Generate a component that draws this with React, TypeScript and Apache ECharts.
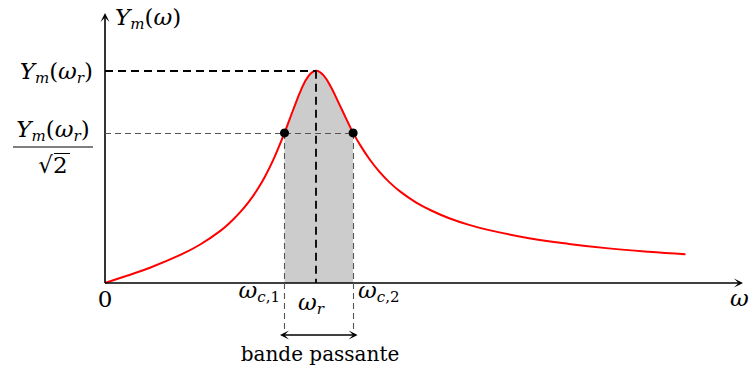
import React, { useEffect, useRef } from 'react';
import * as echarts from 'echarts';

// Resonance curve: angular frequency (ω / ω_r) and Y_m (/ Y_m(ω_r))
const omega = [0, 0.1, 0.213, 0.354, 0.449, 0.543, 0.6, 0.638, 0.68, 0.717, 0.756, 0.8, 0.85, 0.889, 0.93, 0.965, 1.0, 1.035, 1.07, 1.11, 1.142, 1.175, 1.21, 1.252, 1.3, 1.346, 1.4, 1.472, 1.55, 1.63, 1.72, 1.819, 2.008, 2.197, 2.385, 2.574, 2.749];
const ymValues = [0, 0.033, 0.072, 0.131, 0.18, 0.243, 0.292, 0.331, 0.381, 0.433, 0.498, 0.587, 0.707, 0.81, 0.913, 0.977, 1.0, 0.978, 0.923, 0.841, 0.774, 0.707, 0.647, 0.584, 0.523, 0.475, 0.429, 0.38, 0.339, 0.305, 0.275, 0.249, 0.211, 0.184, 0.163, 0.147, 0.135];

const omegaR = 1.0;
const omegaC1 = 0.85;
const omegaC2 = 1.175;
const peakValue = 1.0;
const halfPowerValue = 0.707;

const xMax = 3;
const yMin = -0.4;
const yMax = 1.25;
const bandArrowLevel = -0.245;
const cutoffGuideBottom = -0.25;

const bandText = 'bande passante';

const FONT = 'DejaVu Serif';
const rich: any = {
  i: { fontFamily: FONT, fontStyle: 'italic', fontSize: 23, lineHeight: 29, fill: '#000' },
  n: { fontFamily: FONT, fontSize: 23, lineHeight: 29, fill: '#000' },
  s: { fontFamily: FONT, fontStyle: 'italic', fontSize: 15, lineHeight: 15, verticalAlign: 'bottom', fill: '#000' },
  sn: { fontFamily: FONT, fontSize: 15, lineHeight: 15, verticalAlign: 'bottom', fill: '#000' },
};

const ARROW = 'path://M0,10 L5,0 L10,10 L5,5 Z';

function mathText(text: string, x: number, y: number, align: string, vAlign = 'middle') {
  return {
    type: 'text',
    x,
    y,
    silent: true,
    style: {
      text,
      rich,
      font: `23px "${FONT}"`,
      fill: '#000',
      align,
      verticalAlign: vAlign,
      textAlign: align,
      textVerticalAlign: vAlign,
    },
  };
}

export default function App() {
  const ref = useRef<HTMLDivElement>(null);
  useEffect(() => {
    if (!ref.current) return;
    const chart = echarts.init(ref.current, null, { renderer: 'svg' });
    const curve = omega.map((w, k) => [w, ymValues[k]]);
    const band = curve.filter((p) => p[0] >= omegaC1 - 1e-9 && p[0] <= omegaC2 + 1e-9);

    const black = '#000';
    const grey = '#555';
    const axisStyle = { color: black, width: 1.6, type: 'solid' };
    const peakDash = { color: black, width: 1.8, type: [8, 5] };
    const greyDash = { color: grey, width: 1.1, type: [6, 4] };
    const arrowSize = [9, 9];

    const markData: any[] = [
      // axes
      [
        { coord: [0, 0], symbol: 'none', lineStyle: axisStyle },
        { coord: [xMax, 0], symbol: ARROW, symbolSize: arrowSize },
      ],
      [
        { coord: [0, 0], symbol: 'none', lineStyle: axisStyle },
        { coord: [0, yMax], symbol: ARROW, symbolSize: arrowSize },
      ],
      // peak guides
      [
        { coord: [0, peakValue], symbol: 'none', lineStyle: peakDash },
        { coord: [omegaR, peakValue], symbol: 'none' },
      ],
      [
        { coord: [omegaR, peakValue], symbol: 'none', lineStyle: peakDash },
        { coord: [omegaR, 0], symbol: 'none' },
      ],
      // half-power guides
      [
        { coord: [0, halfPowerValue], symbol: 'none', lineStyle: greyDash },
        { coord: [omegaC2, halfPowerValue], symbol: 'none' },
      ],
      [
        { coord: [omegaC1, halfPowerValue], symbol: 'none', lineStyle: greyDash },
        { coord: [omegaC1, cutoffGuideBottom], symbol: 'none' },
      ],
      [
        { coord: [omegaC2, halfPowerValue], symbol: 'none', lineStyle: greyDash },
        { coord: [omegaC2, cutoffGuideBottom], symbol: 'none' },
      ],
      // band arrow
      [
        { coord: [omegaC1, bandArrowLevel], symbol: ARROW, symbolSize: arrowSize, lineStyle: { color: black, width: 1.6, type: 'solid' } },
        { coord: [omegaC2, bandArrowLevel], symbol: ARROW, symbolSize: arrowSize },
      ],
    ];

    chart.setOption({
      animation: false,
      grid: { left: 105, top: 17.6, width: 633.5, height: 350.3, containLabel: false },
      xAxis: { type: 'value', min: 0, max: xMax, show: false },
      yAxis: { type: 'value', min: yMin, max: yMax, show: false },
      series: [
        {
          type: 'line',
          data: band,
          smooth: 0.4,
          showSymbol: false,
          silent: true,
          lineStyle: { width: 0, opacity: 0 },
          areaStyle: { color: '#cccccc', opacity: 1 },
          z: 1,
        },
        {
          type: 'line',
          data: curve,
          smooth: 0.4,
          showSymbol: false,
          silent: true,
          lineStyle: { color: '#ff0000', width: 2 },
          z: 3,
          markLine: {
            silent: true,
            animation: false,
            label: { show: false },
            emphasis: { disabled: true },
            data: markData,
          },
        },
        {
          type: 'scatter',
          data: [
            [omegaC1, halfPowerValue],
            [omegaC2, halfPowerValue],
          ],
          symbolSize: 9,
          itemStyle: { color: black, opacity: 1 },
          silent: true,
          z: 5,
        },
      ],
      graphic: [
        mathText('{i|Y}{s|m}{n|(}{i|ω}{n|)}', 115, 17, 'left'),
        mathText('{i|Y}{s|m}{n|(}{i|ω}{s|r}{n|)}', 93, 71, 'right'),
        mathText('{i|Y}{s|m}{n|(}{i|ω}{s|r}{n|)}', 53, 129, 'center'),
        { type: 'line', silent: true, shape: { x1: 13, y1: 147, x2: 93, y2: 147 }, style: { stroke: black, lineWidth: 1 } },
        mathText('{n|√2}', 53, 165, 'center'),
        { type: 'line', silent: true, shape: { x1: 54, y1: 153.5, x2: 70, y2: 153.5 }, style: { stroke: black, lineWidth: 1 } },
        mathText('{n|0}', 105, 299, 'center'),
        mathText('{i|ω}{s|c}{sn|,1}', 280, 290, 'right'),
        mathText('{i|ω}{s|r}', 311, 302, 'center'),
        mathText('{i|ω}{s|c}{sn|,2}', 358, 290, 'left'),
        mathText('{i|ω}', 730, 298, 'left'),
        {
          type: 'text',
          x: 320,
          y: 354,
          silent: true,
          style: {
            text: bandText,
            font: `20px "${FONT}"`,
            fill: black,
            align: 'center',
            verticalAlign: 'middle',
            textAlign: 'center',
            textVerticalAlign: 'middle',
          },
        },
      ],
    });
    return () => chart.dispose();
  }, []);
  return (
    <div
      ref={ref}
      style={{ position: 'fixed', left: 0, top: 0, width: 749, height: 369, background: '#fff' }}
    />
  );
}
